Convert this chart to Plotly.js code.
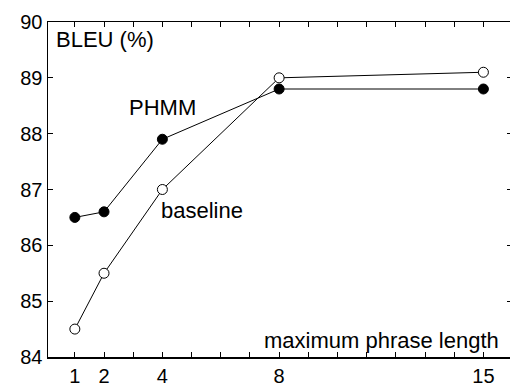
<!DOCTYPE html>
<html>
<head>
<meta charset="utf-8">
<script src="https://cdn.plot.ly/plotly-3.0.1.min.js"></script>
<style>html,body{margin:0;padding:0;overflow:hidden;background:#fff}</style>
</head>
<body>
<div id="chart" style="width:514px;height:390px"></div>
<script>
// Data
const phraseLength = [1, 2, 4, 8, 15];
const phmmBleu = [86.5, 86.6, 87.9, 88.8, 88.8];
const baselineBleu = [84.5, 85.5, 87.0, 89.0, 89.1];
const xTickVals = [1,2,3,4,5,6,7,8,9,10,11,12,13,14,15];
const xTickLabels = ['1','2','','4','','','','8','','','','','','','15'];
const yTickVals = [84, 85, 86, 87, 88, 89, 90];

const FONT = 'Arial, "Liberation Sans", Helvetica, sans-serif';

const traces = [
  {
    x: phraseLength, y: phmmBleu, name: 'PHMM',
    type: 'scatter', mode: 'lines+markers',
    line: {color: '#000', width: 1},
    marker: {symbol: 'circle', size: 10, color: '#000', line: {color: '#000', width: 1}}
  },
  {
    x: phraseLength, y: baselineBleu, name: 'baseline',
    type: 'scatter', mode: 'lines+markers',
    line: {color: '#000', width: 1},
    marker: {symbol: 'circle', size: 10, color: '#fff', line: {color: '#000', width: 1}}
  }
];

const axisCommon = {
  showline: true, linecolor: '#000', linewidth: 1.5, mirror: 'ticks',
  ticks: 'inside', ticklen: 5, tickwidth: 1, tickcolor: '#000',
  showgrid: false, zeroline: false,
  tickfont: {family: FONT, size: 20, color: '#000'}
};

const annFont = {family: FONT, size: 22, color: '#000'};

const layout = {
  width: 514, height: 390,
  margin: {l: 48, r: 2, t: 22, b: 33},
  paper_bgcolor: '#fff', plot_bgcolor: '#fff',
  showlegend: false,
  font: {family: FONT, color: '#000'},
  xaxis: Object.assign({}, axisCommon, {
    range: [0.08, 15.98], tickmode: 'array',
    tickvals: xTickVals, ticktext: xTickLabels
  }),
  yaxis: Object.assign({}, axisCommon, {
    range: [84, 90], tickmode: 'array', tickvals: yTickVals
  }),
  annotations: [
    {text: 'BLEU (%)', x: 0.30, y: 89.68, xref: 'x', yref: 'y', xanchor: 'left', yanchor: 'middle', showarrow: false, font: annFont},
    {text: 'PHMM', x: 2.77, y: 88.46, xref: 'x', yref: 'y', xanchor: 'left', yanchor: 'middle', showarrow: false, font: annFont},
    {text: 'baseline', x: 3.90, y: 86.63, xref: 'x', yref: 'y', xanchor: 'left', yanchor: 'middle', showarrow: false, font: annFont},
    {text: 'maximum phrase length', x: 15.6, y: 84.30, xref: 'x', yref: 'y', xanchor: 'right', yanchor: 'middle', showarrow: false, font: annFont}
  ]
};

Plotly.newPlot('chart', traces, layout, {displayModeBar: false, staticPlot: true});
</script>
</body>
</html>
